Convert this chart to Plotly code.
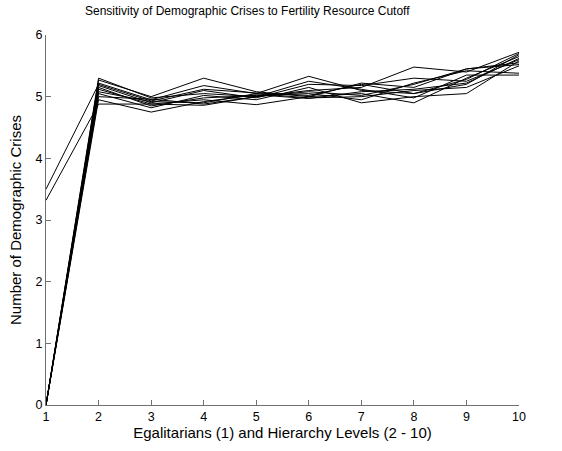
import plotly.graph_objects as go

levels = [1, 2, 3, 4, 5, 6, 7, 8, 9, 10]

# Crisis counts per run, one list per cutoff setting
run_a = [0.00, 5.30, 4.98, 5.05, 5.00, 5.10, 5.15, 5.48, 5.40, 5.72]
run_b = [0.00, 5.27, 5.00, 5.30, 5.08, 5.00, 5.22, 5.15, 5.45, 5.55]
run_c = [0.00, 5.22, 4.95, 5.18, 5.05, 5.33, 5.10, 5.05, 5.20, 5.68]
run_d = [0.00, 5.18, 4.90, 5.10, 4.98, 5.20, 5.18, 5.30, 5.25, 5.60]
run_e = [0.00, 5.15, 4.85, 4.98, 5.02, 5.05, 4.95, 5.22, 5.42, 5.38]
run_f = [0.00, 5.12, 4.88, 4.95, 4.87, 5.00, 5.05, 4.90, 5.30, 5.65]
run_g = [0.00, 5.08, 4.92, 4.90, 5.05, 4.98, 5.00, 5.10, 5.15, 5.50]
run_h = [0.00, 5.05, 4.82, 5.02, 4.95, 5.15, 4.90, 5.00, 5.05, 5.58]
run_i = [0.00, 5.00, 4.96, 4.88, 5.00, 5.25, 5.12, 4.98, 5.35, 5.35]
run_j = [0.00, 4.95, 4.75, 4.92, 5.03, 4.97, 5.08, 5.12, 5.22, 5.62]
run_k = [3.32, 4.88, 4.88, 4.86, 5.00, 5.08, 5.02, 5.20, 5.45, 5.52]
run_l = [3.50, 5.20, 4.93, 5.12, 5.06, 5.02, 5.20, 5.05, 5.28, 5.70]

runs = [run_a, run_b, run_c, run_d, run_e, run_f,
        run_g, run_h, run_i, run_j, run_k, run_l]

fig = go.Figure()
for r in runs:
    fig.add_trace(go.Scatter(x=levels, y=r, mode="lines",
                             line=dict(color="black", width=1),
                             showlegend=False, hoverinfo="skip"))

axis_font = dict(family="Liberation Sans, Arial, sans-serif", size=12.5, color="black")

fig.update_layout(
    width=562, height=451,
    margin=dict(l=46, r=43, t=35, b=44),
    paper_bgcolor="white", plot_bgcolor="white",
    font=axis_font,
    title=dict(text="Sensitivity of Demographic Crises to Fertility Resource Cutoff",
               x=0.44, xanchor="center", xref="container", y=0.985, yanchor="top",
               font=dict(family="Liberation Sans, Arial, sans-serif", size=12, color="black")),
    xaxis=dict(range=[1, 10], tickmode="array", tickvals=levels,
               ticks="inside", ticklen=5, tickcolor="#707070",
               showline=True, linecolor="#707070", linewidth=1,
               showgrid=False, zeroline=False,
               title=dict(text="Egalitarians (1) and Hierarchy Levels (2 - 10)", standoff=4),
               tickfont=axis_font),
    yaxis=dict(range=[0, 6], tickmode="array", tickvals=[0, 1, 2, 3, 4, 5, 6],
               ticks="inside", ticklen=5, tickcolor="#707070",
               showline=True, linecolor="#707070", linewidth=1,
               showgrid=False, zeroline=False,
               title=dict(text="Number of Demographic Crises", standoff=10),
               tickfont=axis_font),
)

fig.write_html("out.html")
